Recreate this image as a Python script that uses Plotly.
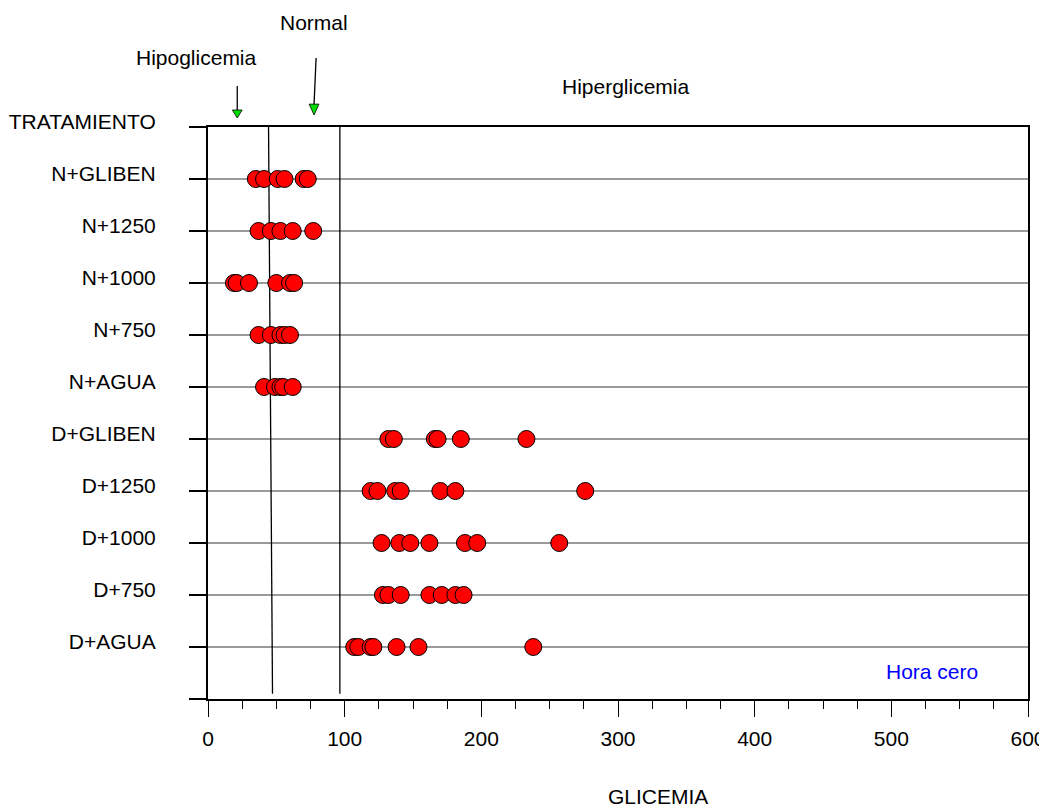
import plotly.graph_objects as go

# Categories (bottom to top) and glycemia values
categories = ["D+AGUA", "D+750", "D+1000", "D+1250", "D+GLIBEN",
              "N+AGUA", "N+750", "N+1000", "N+1250", "N+GLIBEN"]
d_agua = [107, 110, 119, 121, 138, 154, 238]
d_750 = [128, 132, 141, 162, 171, 181, 187]
d_1000 = [127, 140, 148, 162, 188, 197, 257]
d_1250 = [119, 124, 137, 141, 170, 181, 276]
d_gliben = [132, 136, 166, 168, 185, 233]
n_agua = [41, 49, 53, 55, 62]
n_750 = [37, 46, 53, 56, 60]
n_1000 = [19, 21, 30, 50, 60, 63]
n_1250 = [37, 46, 53, 62, 77]
n_gliben = [35, 41, 51, 56, 70, 73]
series = [d_agua, d_750, d_1000, d_1250, d_gliben,
          n_agua, n_750, n_1000, n_1250, n_gliben]

tick_labels = ["", *categories, "TRATAMIENTO"]
tick_positions = list(range(len(tick_labels)))

# Reference lines (glycemia thresholds)
hipo_line_x = [44.3, 47.2]
hiper_line_x = [96.5, 96.5]
ref_line_y = [11, 0.1]
# Arrow pointers (x in data units)
hipo_arrow_x = [21.4, 21.4]
normal_arrow_x = [79.1, 77.6]

FONT = "Liberation Sans, Arial, sans-serif"
FS = 21

fig = go.Figure()

# threshold lines
fig.add_trace(go.Scatter(x=hipo_line_x, y=ref_line_y, mode="lines",
                         line=dict(color="black", width=1.3),
                         hoverinfo="skip", showlegend=False))
fig.add_trace(go.Scatter(x=hiper_line_x, y=ref_line_y, mode="lines",
                         line=dict(color="black", width=1.3),
                         hoverinfo="skip", showlegend=False))

xs, ys = [], []
for i, vals in enumerate(series):
    xs += vals
    ys += [i + 1] * len(vals)

fig.add_trace(go.Scatter(
    x=xs, y=ys, mode="markers",
    marker=dict(size=17, color="#ff0000", line=dict(color="black", width=1)),
    showlegend=False, cliponaxis=False))

# arrows: black shaft + green triangular head
def arrow(xs_, y_top, y_head, y_tip, half=3.6):
    fig.add_shape(type="line", xref="x", yref="paper",
                  x0=xs_[0], x1=xs_[1], y0=y_top, y1=y_head,
                  line=dict(color="black", width=1.3))
    xc = xs_[1]
    fig.add_shape(type="path", xref="x", yref="paper",
                  path=f"M {xc-half},{y_head} L {xc+half},{y_head} L {xc},{y_tip} Z",
                  fillcolor="#00dd00", line=dict(color="black", width=0.8))

arrow(hipo_arrow_x, 1.0717, 1.0297, 1.0157)
arrow(normal_arrow_x, 1.1206, 1.040, 1.021)

annots = [
    dict(text="Normal", x=77.2, y=1.182, xref="x", yref="paper"),
    dict(text="Hipoglicemia", x=-0.0146, y=1.121, xref="paper", yref="paper"),
    dict(text="Hiperglicemia", x=306.2, y=1.07, xref="x", yref="paper"),
    dict(text="GLICEMIA", x=329, y=-0.171, xref="x", yref="paper"),
    dict(text="Hora cero", x=530, y=0.52, xref="x", yref="y",
         font=dict(color="#0000ff", size=FS, family=FONT)),
]
for a in annots:
    a.setdefault("font", dict(color="black", size=FS, family=FONT))
    fig.add_annotation(showarrow=False, xanchor="center", yanchor="middle", **a)

fig.update_layout(
    width=1039, height=804,
    margin=dict(l=200, r=19, t=119, b=113, pad=0, autoexpand=False),
    paper_bgcolor="white", plot_bgcolor="white",
    font=dict(family=FONT, size=FS, color="black"),
    showlegend=False,
)

fig.update_xaxes(
    range=[0, 600], showgrid=False, zeroline=False, automargin=False,
    showline=True, linecolor="black", linewidth=1.5, mirror=True,
    tickmode="linear", tick0=0, dtick=100,
    ticks="outside", ticklen=16, tickwidth=1.3, tickcolor="black",
    minor=dict(dtick=25, ticks="outside", ticklen=8, tickwidth=1.3,
               tickcolor="black", showgrid=False),
    tickfont=dict(size=FS, family=FONT, color="black"),
    ticklabelstandoff=4,
)
fig.update_yaxes(
    range=[0, 11], zeroline=False, automargin=False,
    showline=True, linecolor="black", linewidth=2, mirror=True,
    tickmode="array", tickvals=tick_positions, ticktext=tick_labels,
    ticks="outside", ticklen=17, tickwidth=1.5, tickcolor="black",
    showgrid=True, gridcolor="#9a9a9a", gridwidth=1.5,
    tickfont=dict(size=FS, family=FONT, color="black"),
    ticklabelstandoff=29, ticklabelshift=-5,
)

fig.write_html("out.html")
